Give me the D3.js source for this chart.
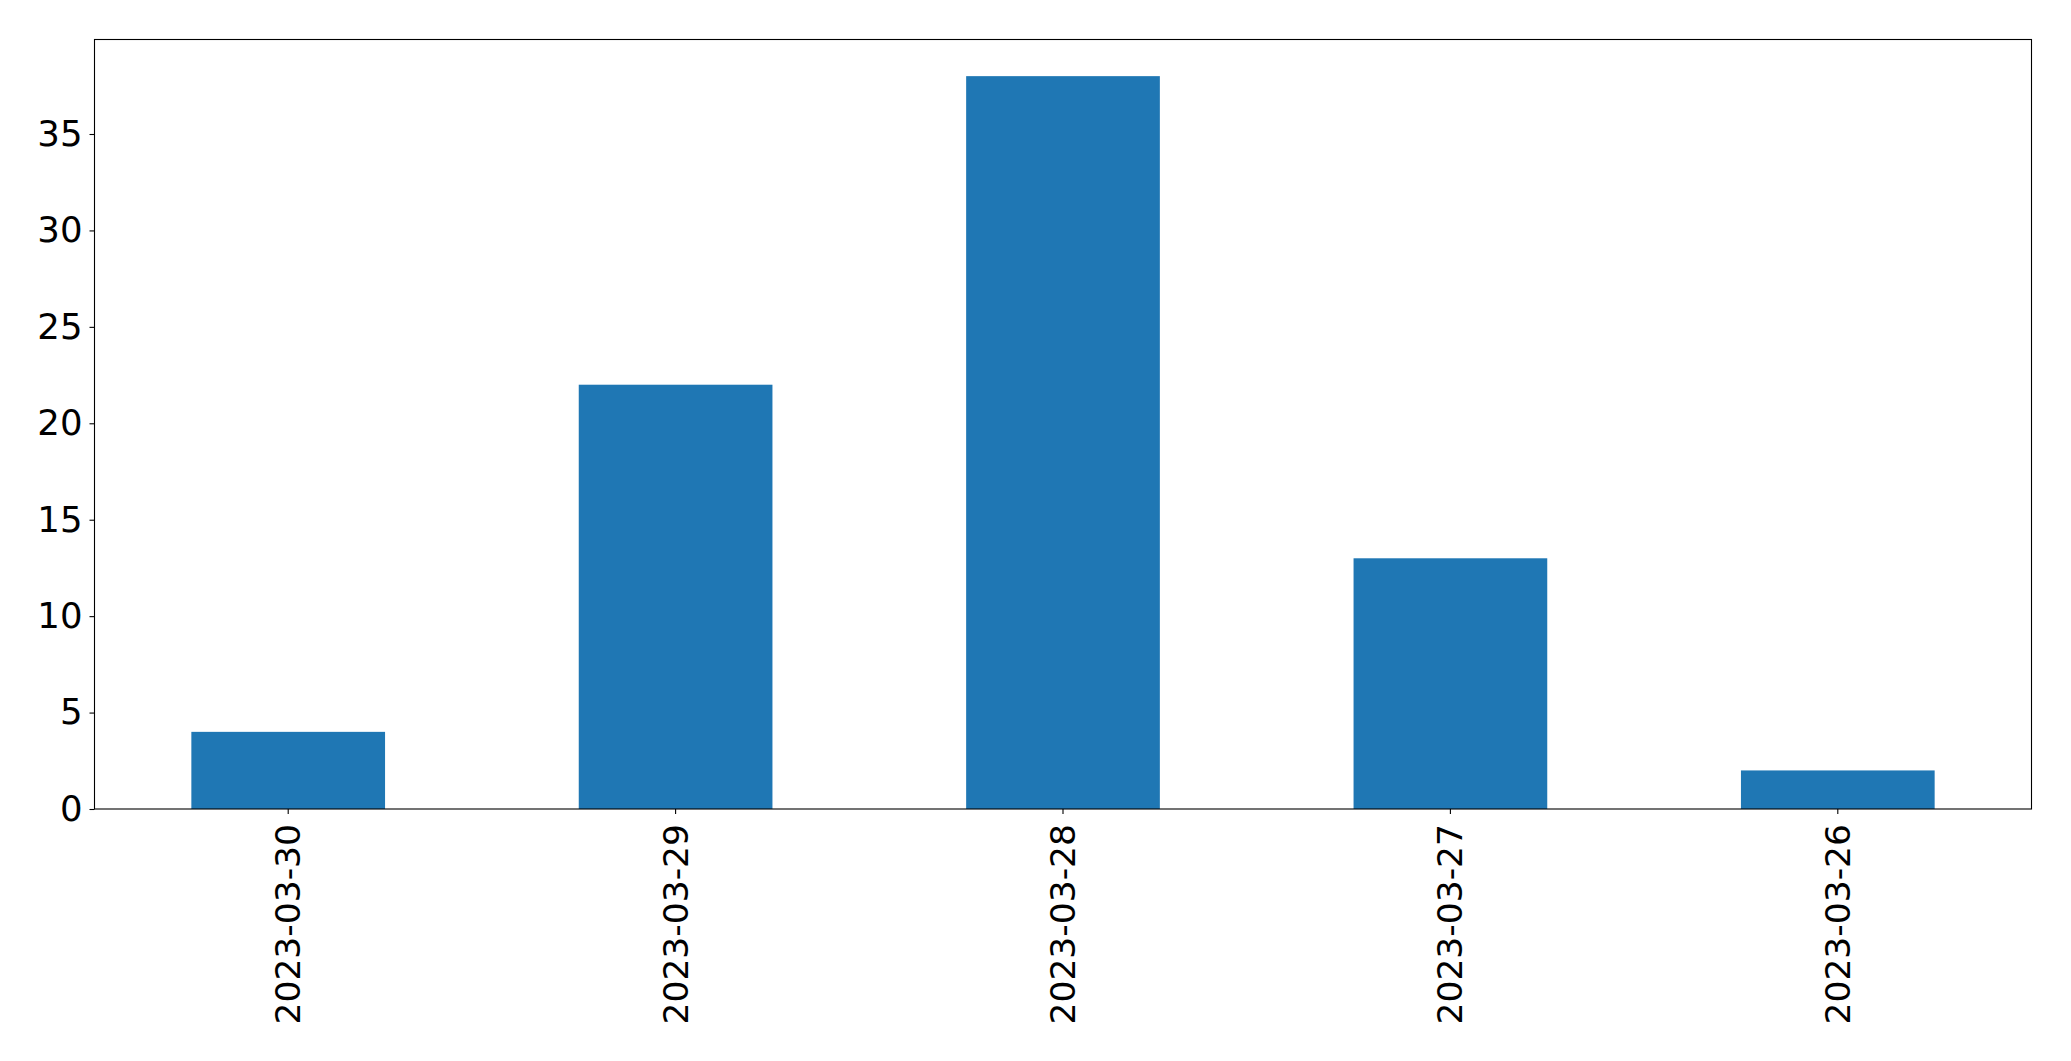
<!DOCTYPE html>
<html>
<head>
<meta charset="utf-8">
<script src="https://cdn.jsdelivr.net/npm/d3@7"></script>
<style>
  html, body { margin: 0; padding: 0; background: #ffffff; }
  svg { display: block; }
  text { font-family: "DejaVu Sans", sans-serif; }
</style>
</head>
<body>
<script>
const categories = ["2023-03-30", "2023-03-29", "2023-03-28", "2023-03-27", "2023-03-26"];
const values = [4, 22, 38, 13, 2];
const yTicks = [0, 5, 10, 15, 20, 25, 30, 35];

const W = 2071, H = 1061;
const margin = {left: 94.5, top: 39.5, right: 2071 - 2031.5, bottom: 1061 - 809};
const yFontSize = 35.5;
const xFontSize = 34.5;

const svg = d3.select("body").append("svg").attr("width", W).attr("height", H);

const x = d3.scaleBand().domain(categories)
  .range([margin.left, W - margin.right])
  .paddingInner(0.5).paddingOuter(0.25);
const y = d3.scaleLinear().domain([0, 39.9]).range([H - margin.bottom, margin.top]);

svg.append("g").selectAll("rect").data(values).join("rect")
  .attr("x", (d, i) => x(categories[i]))
  .attr("width", x.bandwidth())
  .attr("y", d => y(d))
  .attr("height", d => y(0) - y(d))
  .attr("fill", "#1f77b4");

const yAxis = svg.append("g")
  .attr("transform", `translate(${margin.left},0)`)
  .call(d3.axisLeft(y).tickValues(yTicks).tickSize(5).tickPadding(7).tickFormat(d3.format("d")));
yAxis.select(".domain").remove();
yAxis.selectAll("line").attr("stroke", "#000").attr("stroke-width", 1.1);
yAxis.selectAll("text").attr("font-size", yFontSize).attr("fill", "#000")
  .attr("font-family", "DejaVu Sans, sans-serif");

const xAxis = svg.append("g")
  .attr("transform", `translate(0,${H - margin.bottom})`)
  .call(d3.axisBottom(x).tickSize(5).tickPadding(0));
xAxis.select(".domain").remove();
xAxis.selectAll("line").attr("stroke", "#000").attr("stroke-width", 1.1);
xAxis.selectAll("text")
  .attr("font-size", xFontSize).attr("fill", "#000")
  .attr("font-family", "DejaVu Sans, sans-serif")
  .attr("transform", "rotate(-90)")
  .attr("x", -15).attr("y", 0).attr("dy", "0.35em")
  .attr("text-anchor", "end");

svg.append("rect")
  .attr("x", margin.left).attr("y", margin.top)
  .attr("width", W - margin.right - margin.left)
  .attr("height", H - margin.bottom - margin.top)
  .attr("fill", "none").attr("stroke", "#000").attr("stroke-width", 1.1);
</script>
</body>
</html>
